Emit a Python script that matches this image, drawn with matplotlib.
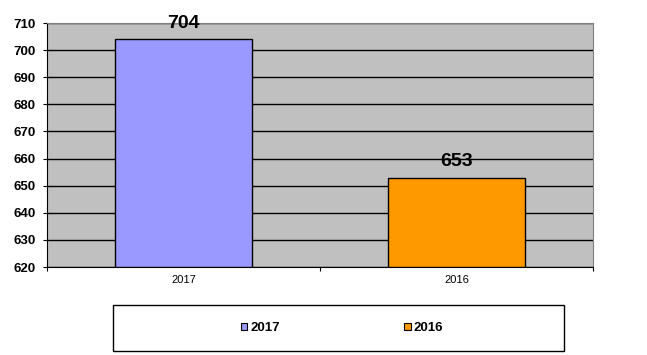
import matplotlib
matplotlib.use("Agg")
import matplotlib.pyplot as plt
from matplotlib.patches import Patch, Rectangle

# data
years = ["2017", "2016"]
totals = [704, 653]
bar_colors = ["#9999FF", "#FF9900"]
y_ticks = [620, 630, 640, 650, 660, 670, 680, 690, 700, 710]

plt.rcParams['font.family'] = ['Liberation Sans', 'DejaVu Sans']

fig = plt.figure(figsize=(6.47, 3.55), dpi=100)
W, H = 647, 355
# plot area in pixels: x 47..593, y 23..267
ax = fig.add_axes([47 / W, 1 - 267 / H, (593 - 47) / W, (267 - 23) / H])
ax.set_facecolor("#C0C0C0")

x_pos = list(range(len(years)))
bars = ax.bar(x_pos, [t - y_ticks[0] for t in totals], bottom=y_ticks[0], width=0.5,
              color=bar_colors, edgecolor="black", linewidth=1.0, zorder=3)

ax.set_ylim(y_ticks[0], y_ticks[-1])
ax.set_xlim(-0.5, len(years) - 0.5)
ax.set_yticks(y_ticks)
ax.set_yticklabels([str(v) for v in y_ticks], fontsize=9.5, fontweight="bold")
ax.yaxis.grid(True, color="black", linewidth=1.0, zorder=1)
ax.set_axisbelow(True)

# category labels centered, tick marks on category boundaries
ax.set_xticks([-0.5, 0.5, 1.5])
ax.set_xticklabels([])
ax.set_xticks(x_pos, minor=True)
ax.set_xticklabels(years, minor=True, fontsize=8)
ax.tick_params(axis="x", which="minor", length=0, pad=6)
ax.tick_params(axis="x", which="major", length=3, direction="out", color="black")
ax.tick_params(axis="y", length=3, direction="out", pad=5)

for side in ["top", "right"]:
    ax.spines[side].set_color("#808080")
for side in ["left", "bottom"]:
    ax.spines[side].set_color("black")

# value labels above bars
for xp, t in zip(x_pos, totals):
    ax.annotate(str(t), (xp, t), xytext=(0, 5.5), textcoords="offset points",
                ha="center", va="bottom", fontsize=14, fontweight="bold", zorder=4)

# legend box
fig.patches.append(Rectangle((113 / W, 1 - 351 / H), (564 - 113) / W, (351 - 305) / H,
                             transform=fig.transFigure, facecolor="white",
                             edgecolor="black", linewidth=1.0))
handles = [Patch(facecolor=c, edgecolor="black", linewidth=0.8) for c in bar_colors]
leg = fig.legend(handles, years, loc="center", bbox_to_anchor=(342 / W, 1 - 328 / H),
                 ncol=2, frameon=False, prop={"size": 9.5, "weight": "bold"},
                 handlelength=0.5, handleheight=0.5, handletextpad=0.25,
                 columnspacing=9.4)

fig.savefig("out.png", dpi=100)
